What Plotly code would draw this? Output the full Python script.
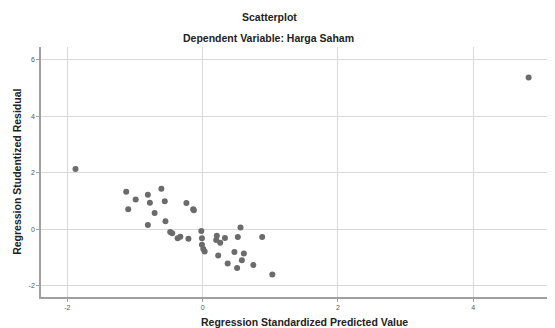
import plotly.graph_objects as go

# Regression standardized predicted value (x) and studentized residual (y)
pred = [-1.88, -1.13, -0.99, -1.10, -0.81, -0.78, -0.61, -0.56, -0.71, -0.81,
        -0.55, -0.24, -0.14, -0.13, -0.48, -0.45, -0.37, -0.33, -0.21, -0.02,
        -0.01, -0.01, 0.01, 0.03, 0.21, 0.20, 0.26, 0.33, 0.52, 0.88,
        0.56, 0.23, 0.47, 0.61, 0.58, 0.37, 0.51, 0.75, 1.03, 4.82]
resid = [2.13, 1.33, 1.05, 0.71, 1.22, 0.94, 1.43, 0.99, 0.57, 0.15,
         0.28, 0.93, 0.71, 0.67, -0.10, -0.14, -0.32, -0.27, -0.34, -0.06,
         -0.32, -0.55, -0.70, -0.79, -0.23, -0.38, -0.48, -0.31, -0.28, -0.28,
         0.06, -0.93, -0.81, -0.86, -1.10, -1.21, -1.37, -1.27, -1.60, 5.37]

x_ticks = [-2, 0, 2, 4]
y_ticks = [-2, 0, 2, 4, 6]

title_text = "Scatterplot"
subtitle_text = "Dependent Variable: Harga Saham"
x_title = "Regression Standardized Predicted Value"
y_title = "Regression Studentized Residual"

FONT = "Liberation Sans, Arial, sans-serif"

fig = go.Figure()
fig.add_trace(go.Scatter(
    x=pred, y=resid, mode="markers",
    marker=dict(color="#6b6b6b", size=6, line=dict(width=0)),
    hoverinfo="skip", showlegend=False,
))

axis_common = dict(
    showgrid=True, gridcolor="#d9d9d9", gridwidth=1,
    zeroline=False, showline=True, linecolor="#a0a0a0", linewidth=1.5,
    ticks="outside", ticklen=3, tickcolor="#a0a0a0",
    tickfont=dict(family=FONT, size=7, color="#555555"),
)

fig.update_layout(
    width=547, height=320,
    margin=dict(l=33, r=0, t=39, b=31),
    paper_bgcolor="white", plot_bgcolor="white",
    font=dict(family=FONT),
    xaxis=dict(range=[-2.39, 5.21], tickvals=x_ticks, ticktext=[str(v) for v in x_ticks],
               mirror=False, **axis_common),
    yaxis=dict(range=[-2.40, 6.45], tickvals=y_ticks, ticktext=[str(v) for v in y_ticks],
               mirror=False, **axis_common),
    annotations=[
        dict(text="<b>" + title_text + "</b>", xref="paper", yref="paper",
             x=0.4455, y=1.12, showarrow=False, xanchor="center", yanchor="middle",
             font=dict(family=FONT, size=10.5, color="#222222")),
        dict(text="<b>" + subtitle_text + "</b>", xref="paper", yref="paper",
             x=0.443, y=1.036, showarrow=False, xanchor="center", yanchor="middle",
             font=dict(family=FONT, size=10.5, color="#222222")),
        dict(text="<b>" + x_title + "</b>", xref="paper", yref="paper",
             x=0.512, y=-0.1, showarrow=False, xanchor="center", yanchor="middle",
             font=dict(family=FONT, size=10.5, color="#222222")),
        dict(text="<b>" + y_title + "</b>", xref="paper", yref="paper",
             x=-0.047, y=0.5, showarrow=False, xanchor="center", yanchor="middle",
             textangle=-90,
             font=dict(family=FONT, size=10.5, color="#222222")),
    ],
)

fig.write_html("out.html")
